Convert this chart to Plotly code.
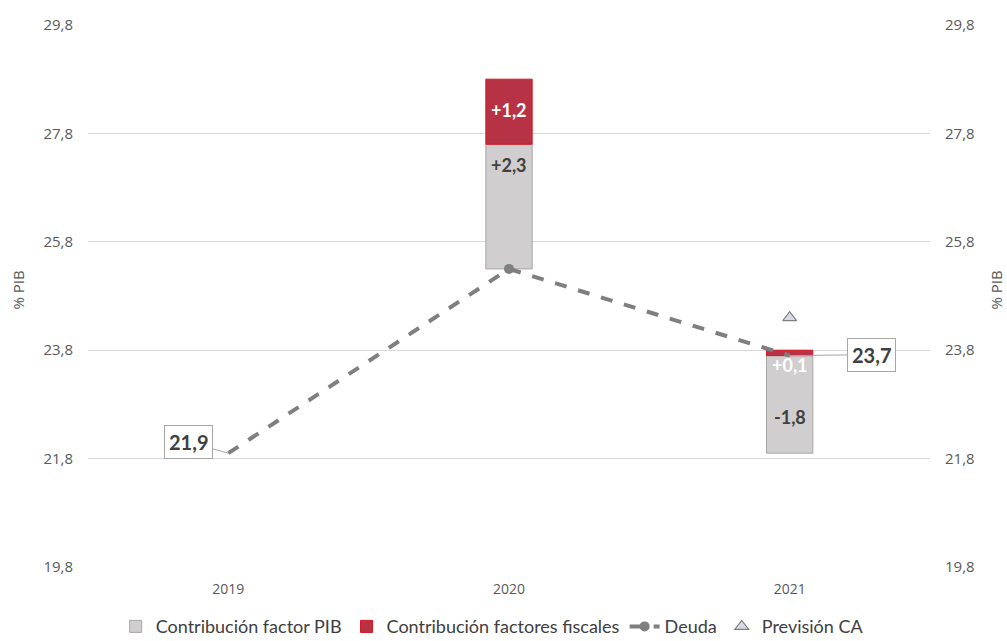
import plotly.graph_objects as go

years = ["2019", "2020", "2021"]
deuda = [21.9, 25.3, 23.7]
contrib_pib = [None, 2.3, -1.8]
contrib_fiscal = [None, 1.2, 0.1]
prevision_ca = [None, None, 24.4]
tick_vals = [19.8, 21.8, 23.8, 25.8, 27.8, 29.8]

FONT = "Lato"
AX_FONT = "Open Sans"
GRAY_TXT = "#595959"
DARK_TXT = "#404040"

xpos = list(range(len(years)))

# bar geometry derived from data
gray_base, gray_len, red_base, red_len = [], [], [], []
for d, p, f in zip(deuda, contrib_pib, contrib_fiscal):
    if p is None:
        gray_base.append(None); gray_len.append(None)
        red_base.append(None); red_len.append(None)
        continue
    gb = d + min(p, 0)
    gray_base.append(gb); gray_len.append(abs(p))
    red_base.append(gb + abs(p)); red_len.append(abs(f))

fig = go.Figure()

fig.add_trace(go.Bar(
    x=xpos, y=gray_len, base=gray_base, name="Contribución factor PIB",
    marker=dict(color="#d0cece", line=dict(color="#a6a6a6", width=1)),
    width=0.165, hoverinfo="skip"))
fig.add_trace(go.Bar(
    x=xpos, y=red_len, base=red_base, name="Contribución factores fiscales",
    marker=dict(color="#b83246", line=dict(color="#d9141f", width=1)),
    width=0.165, hoverinfo="skip"))

# Deuda line
fig.add_trace(go.Scatter(
    x=xpos, y=deuda, mode="lines", showlegend=False,
    line=dict(color="#7f7f7f", width=4, dash="dash")))
fig.add_trace(go.Scatter(
    x=[xpos[1]], y=[deuda[1]], mode="markers", showlegend=False,
    marker=dict(color="#7f7f7f", size=10)))
fig.add_trace(go.Scatter(
    x=[None], y=[None], mode="lines+markers", name="Deuda",
    line=dict(color="#7f7f7f", width=4, dash="dash"),
    marker=dict(color="#7f7f7f", size=10)))

fig.add_trace(go.Scatter(
    x=xpos, y=prevision_ca, mode="markers", name="Previsión CA", yaxis="y2",
    marker=dict(symbol="triangle-up", size=12, color="#d6dce5",
                line=dict(color="#7f7f7f", width=1.2))))

annotations = []
def fmt(v, sign=True):
    s = f"{v:+.1f}" if sign else f"{v:.1f}"
    return s.replace(".", ",")

for i in xpos:
    p = contrib_pib[i]
    f = contrib_fiscal[i]
    if p is None:
        continue
    if p >= 0:
        annotations.append(dict(x=i, y=gray_base[i] + gray_len[i], yanchor="top",
                                yshift=-8, text=f"<b>{fmt(p)}</b>", showarrow=False,
                                font=dict(family=FONT, size=18, color=DARK_TXT)))
    else:
        annotations.append(dict(x=i, y=gray_base[i] + gray_len[i] / 2, yanchor="middle",
                                yshift=-13, text=f"<b>{fmt(p)}</b>", showarrow=False,
                                font=dict(family=FONT, size=18, color=DARK_TXT)))
    if red_len[i] >= 0.5:
        annotations.append(dict(x=i, y=red_base[i] + red_len[i] / 2, yanchor="middle",
                                yshift=2, text=f"<b>{fmt(f)}</b>", showarrow=False,
                                font=dict(family=FONT, size=18, color="white")))
    else:
        annotations.append(dict(x=i, y=red_base[i], yanchor="top", yshift=4,
                                text=f"<b>{fmt(f)}</b>", showarrow=False,
                                font=dict(family=FONT, size=18, color="white")))

# Debt value call-outs
callouts = {0: (-40, -11), 2: (82, -1)}
for i, (ax, ay) in callouts.items():
    annotations.append(dict(
        x=i, y=deuda[i], text=f"<b>{fmt(deuda[i], False)}</b>",
        showarrow=True, arrowhead=0, arrowwidth=1, arrowcolor="#a6a6a6",
        ax=ax, ay=ay, bgcolor="white", bordercolor="#a6a6a6", borderwidth=1,
        borderpad=4, font=dict(family=FONT, size=20, color=DARK_TXT)))

# axis titles
for xp in (-70 / 842, 1 + 66 / 842):
    annotations.append(dict(
        xref="paper", yref="paper", x=xp, y=0.51, text="% PIB", textangle=-90,
        showarrow=False, xanchor="center", yanchor="middle",
        font=dict(family=AX_FONT, size=15, color=GRAY_TXT)))

axis_common = dict(range=[19.8, 29.8], tickvals=tick_vals, tickformat=".1f",
                   tickfont=dict(family=AX_FONT, size=15, color=GRAY_TXT),
                   zeroline=False, showline=False, ticks="", automargin=False,
                   ticklabelstandoff=14)

fig.update_layout(
    width=1007, height=641,
    margin=dict(l=88, r=77, t=25, b=73.5, autoexpand=False),
    paper_bgcolor="white", plot_bgcolor="white",
    separators=",.",
    barmode="overlay",
    xaxis=dict(type="linear", tickvals=xpos, ticktext=years,
               tickfont=dict(family=AX_FONT, size=14, color=GRAY_TXT),
               showgrid=False, showline=False, zeroline=False, ticks="",
               range=[-0.5, 2.5], automargin=False, ticklabelstandoff=12),
    yaxis=dict(**axis_common, showgrid=True, gridcolor="#d9d9d9", gridwidth=1),
    yaxis2=dict(**axis_common, overlaying="y", side="right", showgrid=False),
    legend=dict(orientation="h", x=0.48, xanchor="center", y=-0.076, yanchor="top",
                font=dict(family=FONT, size=18, color=DARK_TXT),
                traceorder="normal"),
    annotations=annotations,
    showlegend=True,
)

# remove the browser's default 8px page margin so the figure fills the window
fig.write_html("out.html",
               config={"displayModeBar": False},
               post_script="document.body.style.margin='0';"
                           "document.documentElement.style.overflow='hidden';")
